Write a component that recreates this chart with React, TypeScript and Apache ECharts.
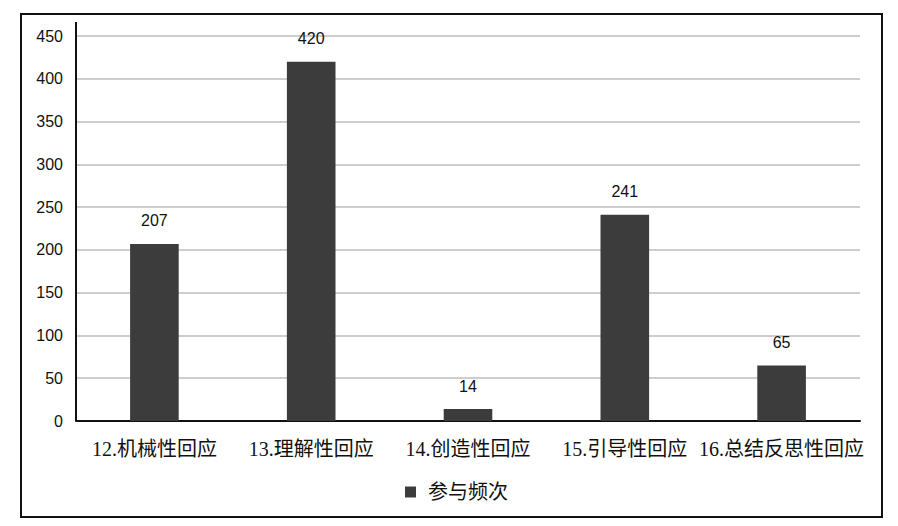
import React, { useEffect, useRef } from "react";
import * as echarts from "echarts";

const categories = ["12.机械性回应", "13.理解性回应", "14.创造性回应", "15.引导性回应", "16.总结反思性回应"];
const values = [207, 420, 14, 241, 65];
const seriesName = "参与频次";
const yMin = 0;
const yMax = 450;
const yInterval = 50;

export default function App() {
  const ref = useRef<HTMLDivElement>(null);
  useEffect(() => {
    if (!ref.current) return;
    const chart = echarts.init(ref.current, undefined, { renderer: "svg" });
    const serif = "'Liberation Serif', 'Times New Roman', 'Noto Sans CJK SC', serif";
    const sans = "'Liberation Sans', Arial, sans-serif";
    chart.setOption({
      animation: false,
      backgroundColor: "#ffffff",
      grid: { left: 76, right: 38, top: 36, bottom: 105, containLabel: false },
      legend: {
        data: [seriesName],
        top: 477,
        left: 400,
        icon: "rect",
        itemWidth: 11,
        itemHeight: 11,
        itemGap: 12,
        textStyle: { fontFamily: serif, fontSize: 20, color: "#111", padding: [0, 0, 0, 7] },
      },
      xAxis: {
        type: "category",
        data: categories,
        axisLine: { show: true, lineStyle: { color: "#111", width: 2 } },
        axisTick: { show: false },
        axisLabel: { fontFamily: serif, fontSize: 20, color: "#111", margin: 18, interval: 0 },
      },
      yAxis: {
        type: "value",
        min: yMin,
        max: yMax,
        interval: yInterval,
        axisLine: { show: false },
        axisTick: { show: false },
        axisLabel: { fontFamily: sans, fontSize: 16, color: "#111", margin: 13 },
        splitLine: { show: true, lineStyle: { color: "#bdbdbd", width: 1.5 } },
      },
      series: [
        {
          name: seriesName,
          type: "bar",
          data: values,
          barWidth: "31%",
          itemStyle: { color: "#3c3c3c" },
          label: {
            show: true,
            position: "top",
            distance: 15,
            fontFamily: sans,
            fontSize: 16,
            color: "#111",
          },
        },
      ],
      graphic: [
        {
          type: "rect",
          shape: { x: 21, y: 14, width: 861, height: 503 },
          style: { fill: "none", stroke: "#111", lineWidth: 2 },
          silent: true,
        },
        {
          type: "line",
          shape: { x1: 76, y1: 22, x2: 76, y2: 421 },
          style: { stroke: "#111", lineWidth: 2 },
          silent: true,
          z: 10,
        },
      ],
    });
    return () => chart.dispose();
  }, []);
  return <div ref={ref} style={{ position: "absolute", left: 0, top: 0, width: 898, height: 526 }} />;
}
